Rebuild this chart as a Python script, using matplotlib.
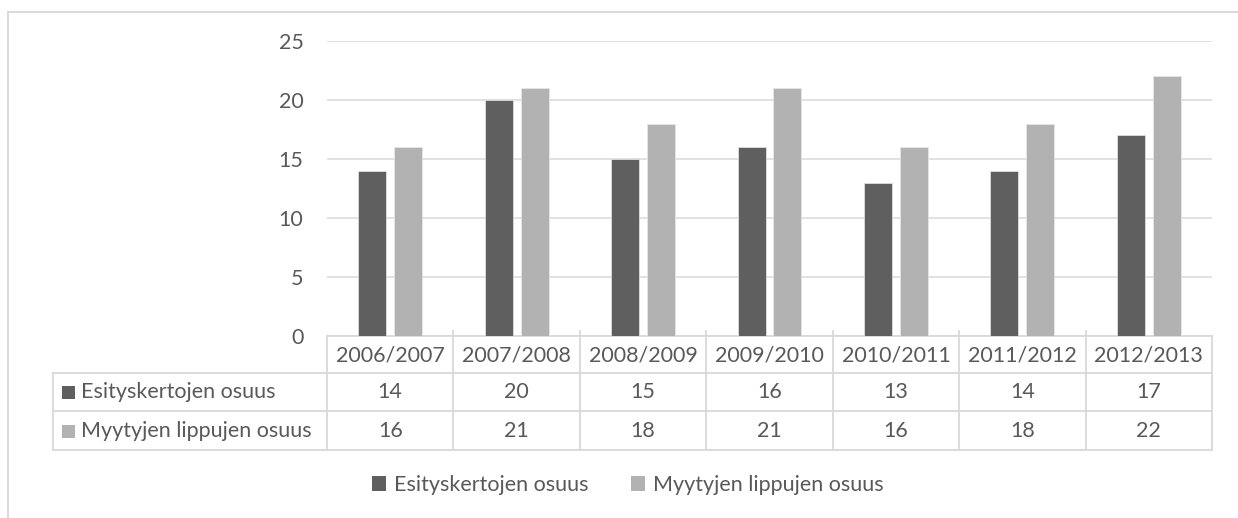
import matplotlib
matplotlib.use("Agg")
import matplotlib.pyplot as plt
from matplotlib.patches import Rectangle
from matplotlib.lines import Line2D
from matplotlib.transforms import blended_transform_factory
import numpy as np

categories = ["2006/2007", "2007/2008", "2008/2009", "2009/2010", "2010/2011", "2011/2012", "2012/2013"]
series_names = ["Esityskertojen osuus", "Myytyjen lippujen osuus"]
esitys = [14, 20, 15, 16, 13, 14, 17]
myydyt = [16, 21, 18, 21, 16, 18, 22]
yticks = [0, 5, 10, 15, 20, 25]

colors = ["#5f5f5f", "#b2b2b2"]
text_col = "#595959"
grid_col = "#d9d9d9"
FONT = "Lato"
FS = 15.5

W, H = 1238, 518
fig = plt.figure(figsize=(W / 100, H / 100), dpi=100)
fig.patch.set_facecolor("white")

# plot area in pixels
x0, x1 = 327, 1212
ytop, ybot = 41, 336
ax = fig.add_axes([x0 / W, 1 - ybot / H, (x1 - x0) / W, (ybot - ytop) / H])
ax.set_xlim(-0.5, len(categories) - 0.5)
ax.set_ylim(0, 25)
for s in ax.spines.values():
    s.set_visible(False)
ax.set_xticks([])
ax.set_yticks(yticks)
ax.tick_params(axis="y", length=0, pad=17, labelcolor=text_col, labelsize=FS)
for lbl in ax.get_yticklabels():
    lbl.set_fontfamily(FONT)
ax.yaxis.grid(True, color=grid_col, linewidth=1.1)
ax.set_axisbelow(True)

x = np.arange(len(categories))
bw = 0.222
off = 0.142
ax.bar(x - off, esitys, bw, color=colors[0], edgecolor="#e8e8e8", linewidth=0.5, zorder=3)
ax.bar(x + off, myydyt, bw, color=colors[1], edgecolor="#e8e8e8", linewidth=0.5, zorder=3)

# ---------- data table ----------
axh = ybot - ytop
def ay(py):
    return (ybot - py) / axh  # axes fraction from pixel y

bt = blended_transform_factory(ax.transData, ax.transAxes)
row_lines = [336, 373, 411, 450]
lc = "#d9d9d9"
lw = 1.3
lab_left = (53 - x0) / (x1 - x0)

ax.add_line(Line2D([-0.5, len(categories) - 0.5], [ay(336)] * 2, transform=bt, color=lc, lw=lw, clip_on=False))
for py in row_lines[1:]:
    ax.add_line(Line2D([lab_left, 1], [ay(py)] * 2, transform=ax.transAxes, color=lc, lw=lw, clip_on=False))
for i in range(len(categories) + 1):
    ax.add_line(Line2D([i - 0.5] * 2, [ay(450), ay(336)], transform=bt, color=lc, lw=lw, clip_on=False))
    if 0 < i < len(categories):
        ax.add_line(Line2D([i - 0.5] * 2, [ay(336), ay(331)], transform=bt, color=lc, lw=lw, clip_on=False))
ax.add_line(Line2D([lab_left] * 2, [ay(450), ay(373)], transform=ax.transAxes, color=lc, lw=lw, clip_on=False))

row_centers = [355, 392.5, 431]
for i, c in enumerate(categories):
    ax.text(i, ay(row_centers[0]), c, transform=bt, ha="center", va="center",
            color=text_col, fontsize=FS, fontfamily=FONT, clip_on=False)
    ax.text(i, ay(row_centers[1]), str(esitys[i]), transform=bt, ha="center", va="center",
            color=text_col, fontsize=FS, fontfamily=FONT, clip_on=False)
    ax.text(i, ay(row_centers[2]), str(myydyt[i]), transform=bt, ha="center", va="center",
            color=text_col, fontsize=FS, fontfamily=FONT, clip_on=False)

sq = 13
for r, (name, col) in enumerate(zip(series_names, colors)):
    cy = row_centers[r + 1]
    fx = (62 - x0) / (x1 - x0)
    ax.add_patch(Rectangle((fx, ay(cy + sq / 2)), sq / (x1 - x0), sq / axh,
                           transform=ax.transAxes, facecolor=col, edgecolor="none", clip_on=False))
    ax.text((81 - x0) / (x1 - x0), ay(cy), name, transform=ax.transAxes, ha="left", va="center",
            color=text_col, fontsize=FS, fontfamily=FONT, clip_on=False)

# ---------- legend ----------
handles = [Rectangle((0, 0), 1, 1, facecolor=c, edgecolor="none") for c in colors]
leg = fig.legend(handles, series_names, loc="center", bbox_to_anchor=(628 / W, 1 - 485 / H),
                 ncol=2, frameon=False, handlelength=0.65, handleheight=0.65,
                 handletextpad=0.35, columnspacing=2.0, prop={"family": FONT, "size": FS})
for t in leg.get_texts():
    t.set_color(text_col)

# ---------- outer frame ----------
fc = "#d9d9d9"
fig.add_artist(Line2D([8 / W, 1.0], [1 - 12 / H] * 2, transform=fig.transFigure, color=fc, lw=1.4))
fig.add_artist(Line2D([8 / W] * 2, [0.0, 1 - 12 / H], transform=fig.transFigure, color=fc, lw=1.4))

fig.savefig("out.png", dpi=100, facecolor="white")
